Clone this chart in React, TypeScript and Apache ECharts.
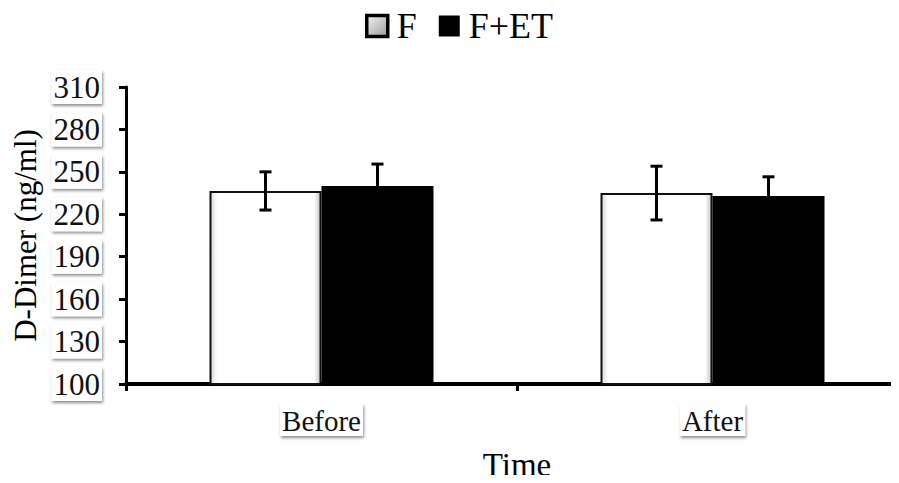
import React, { useEffect, useRef } from "react";
import * as echarts from "echarts";

const categories = ["Before", "After"];
const seriesNames = ["F", "F+ET"];
const fMeans = [236.5, 235];
const fErrors = [13.5, 19];
const fetMeans = [240, 233];
const fetErrors = [15.5, 13.5];
const yTicks = [100, 130, 160, 190, 220, 250, 280, 310];

const FONT = "'Liberation Serif', 'Times New Roman', serif";
const BAR_W = 112;

export default function App() {
  const ref = useRef<HTMLDivElement>(null);
  useEffect(() => {
    if (!ref.current) return;
    const chart = echarts.init(ref.current, undefined, { renderer: "svg" });

    const labelBox = {
      backgroundColor: "#fff",
      shadowColor: "rgba(0,0,0,0.45)",
      shadowBlur: 3,
      shadowOffsetX: 1,
      shadowOffsetY: 2,
      padding: [2, 2, 1, 2],
    };

    const errSeries = (means: number[], errs: number[], offset: number) => ({
      type: "custom",
      coordinateSystem: "cartesian2d",
      silent: true,
      z: 5,
      encode: { x: 0, y: [1, 2] },
      data: means.map((m, i) => [i, m - errs[i], m + errs[i]]),
      renderItem: (params: any, api: any) => {
        const idx = api.value(0);
        const lo = api.coord([idx, api.value(1)]);
        const hi = api.coord([idx, api.value(2)]);
        const x = lo[0] + offset;
        const cap = 6;
        const style = { stroke: "#000", lineWidth: 3 };
        return {
          type: "group",
          children: [
            { type: "line", shape: { x1: x, y1: lo[1], x2: x, y2: hi[1] }, style },
            { type: "line", shape: { x1: x - cap, y1: hi[1], x2: x + cap, y2: hi[1] }, style },
            { type: "line", shape: { x1: x - cap, y1: lo[1], x2: x + cap, y2: lo[1] }, style },
          ],
        };
      },
    });

    chart.setOption({
      animation: false,
      backgroundColor: "#fff",
      textStyle: { fontFamily: FONT, color: "#000" },
      legend: {
        top: 8,
        left: 365,
        padding: 0,
        itemWidth: 21,
        itemHeight: 21,
        itemGap: 22,
        icon: "rect",
        textStyle: { fontFamily: FONT, fontSize: 36, color: "#000", padding: [0, 0, 0, 4] },
        data: [
          {
            name: seriesNames[0],
            itemStyle: {
              color: {
                type: "linear", x: 0, y: 0, x2: 1, y2: 1,
                colorStops: [
                  { offset: 0, color: "#f4f4f4" },
                  { offset: 1, color: "#9a9a9a" },
                ],
              },
              borderColor: "#000",
              borderWidth: 3.5,
            },
          },
          { name: seriesNames[1], itemStyle: { color: "#000", borderWidth: 0 } },
        ],
      },
      grid: {
        left: 126,
        width: 782,
        top: 87,
        bottom: 99,
        containLabel: false,
        outerBoundsMode: "none",
      },
      xAxis: {
        type: "category",
        data: categories,
        name: "Time",
        nameLocation: "middle",
        nameGap: 64,
        nameTextStyle: { fontFamily: FONT, fontSize: 33, color: "#000" },
        axisLine: { lineStyle: { color: "#000", width: 4 } },
        axisTick: { show: true, length: 7, lineStyle: { color: "#000", width: 3 } },
        axisLabel: {
          fontFamily: FONT,
          fontSize: 29,
          color: "#111",
          margin: 20,
          ...labelBox,
        },
        splitLine: { show: false },
      },
      yAxis: {
        type: "value",
        min: 100,
        max: 310,
        name: "D-Dimer (ng/ml)",
        nameLocation: "middle",
        nameGap: 84,
        nameTextStyle: { fontFamily: FONT, fontSize: 31, color: "#000" },
        axisLine: { show: true, lineStyle: { color: "#000", width: 3 } },
        axisTick: {
          show: true,
          length: 7,
          customValues: yTicks,
          lineStyle: { color: "#000", width: 3 },
        },
        axisLabel: {
          fontFamily: FONT,
          fontSize: 31,
          color: "#111",
          margin: 24,
          customValues: yTicks,
          ...labelBox,
        },
        splitLine: { show: false },
      },
      series: [
        {
          name: seriesNames[0],
          type: "bar",
          barWidth: BAR_W,
          barGap: "0%",
          clip: true,
          data: fMeans,
          itemStyle: {
            color: {
              type: "linear", x: 0, y: 0, x2: 1, y2: 0,
              colorStops: [
                { offset: 0, color: "#d8d8d8" },
                { offset: 0.06, color: "#ffffff" },
                { offset: 0.94, color: "#ffffff" },
                { offset: 1, color: "#c4c4c4" },
              ],
            },
            borderColor: "#111",
            borderWidth: 2,
          },
        },
        {
          name: seriesNames[1],
          type: "bar",
          barWidth: BAR_W,
          barGap: "0%",
          clip: true,
          data: fetMeans,
          itemStyle: { color: "#000" },
        },
        errSeries(fMeans, fErrors, -BAR_W / 2),
        errSeries(fetMeans, fetErrors, BAR_W / 2),
      ],
    });
    return () => chart.dispose();
  }, []);
  return <div ref={ref} style={{ width: 899, height: 483, margin: -8 }} />;
}
